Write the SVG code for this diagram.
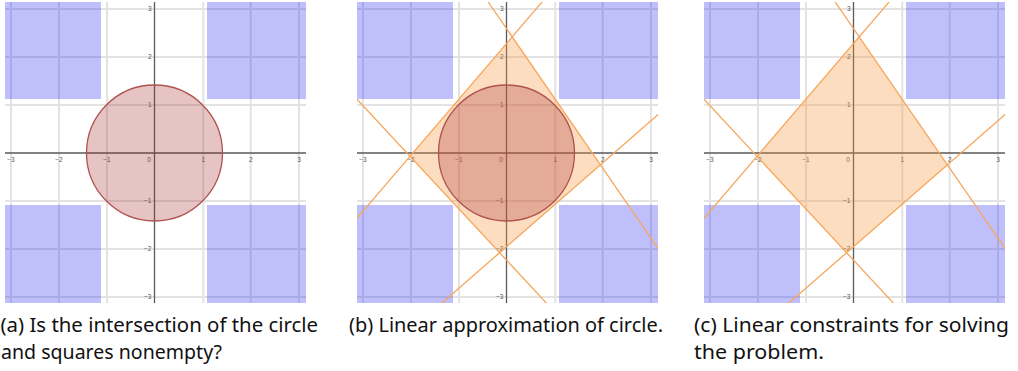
<svg xmlns="http://www.w3.org/2000/svg" width="1018" height="371" viewBox="0 0 1018 371">
<style>
.grid{stroke:#e3e3e3;stroke-width:2;fill:none}
.sq{fill:#0000f0;fill-opacity:0.25;stroke:none}
.axis{stroke:#5a5a5a;stroke-width:1.3;fill:none}
.tick{font-family:"Liberation Sans",Arial,sans-serif;font-size:6.5px;fill:#555}
.tx{text-anchor:middle}
.ty{text-anchor:end}
.circ{fill:#a52a2a;fill-opacity:0.28;stroke:#b0524f;stroke-width:1.3}
.region{fill:#fa963c;fill-opacity:0.32;stroke:none}
.lin{stroke:#f7a75c;stroke-width:1.3;fill:none}
.cap{font-family:"Noto Sans","Open Sans",sans-serif;font-size:19px;fill:#111}
</style>
<defs>
<clipPath id="clip"><rect x="5" y="2" width="301" height="301"/></clipPath>
<g id="base">
<rect x="5" y="2" width="301" height="301" fill="#ffffff"/>
<path class="grid" d="M11 2V303M59 2V303M107 2V303M203.3 2V303M250.7 2V303M299 2V303M5 9H306M5 57H306M5 105H306M5 201H306M5 249H306M5 297H306"/>
<rect class="sq" x="5" y="2" width="96" height="97"/>
<rect class="sq" x="207" y="2" width="99" height="97"/>
<rect class="sq" x="5" y="205" width="96" height="98"/>
<rect class="sq" x="207" y="205" width="99" height="98"/>
<path class="axis" d="M5 153H306M154.5 2V303"/>
</g>
<g id="lines" clip-path="url(#clip)">
<polygon class="region" points="58,156.3 160.2,36.8 248.4,164.9 147.6,252.8"/>
<path class="lin" d="M0 224.1L192 -0.3M134.6 -0.3L310 254.2M310 111.2L86.8 305.7M0 93.9L196 304.8"/>
</g>
</defs>

<g id="panel-a">
<use href="#base"/>
<g class="tick">
<text class="tx" x="11" y="161.5">−3</text><text class="tx" x="59" y="161.5">−2</text><text class="tx" x="107" y="161.5">−1</text><text class="tx" x="149" y="161.5">0</text><text class="tx" x="203.3" y="161.5">1</text><text class="tx" x="250.7" y="161.5">2</text><text class="tx" x="299" y="161.5">3</text>
<text class="ty" x="151.5" y="11.3">3</text><text class="ty" x="151.5" y="59.3">2</text><text class="ty" x="151.5" y="107.3">1</text><text class="ty" x="151.5" y="203.3">−1</text><text class="ty" x="151.5" y="251.3">−2</text><text class="ty" x="151.5" y="299.3">−3</text>
</g>
<circle class="circ" cx="154.5" cy="153" r="68"/>
</g>

<g id="panel-b" transform="translate(352,0)">
<use href="#base"/>
<g class="tick">
<text class="tx" x="11" y="161.5">−3</text><text class="tx" x="59" y="161.5">−2</text><text class="tx" x="107" y="161.5">−1</text><text class="tx" x="149" y="161.5">0</text><text class="tx" x="203.3" y="161.5">1</text><text class="tx" x="250.7" y="161.5">2</text><text class="tx" x="299" y="161.5">3</text>
<text class="ty" x="151.5" y="11.3">3</text><text class="ty" x="151.5" y="59.3">2</text><text class="ty" x="151.5" y="107.3">1</text><text class="ty" x="151.5" y="203.3">−1</text><text class="ty" x="151.5" y="251.3">−2</text><text class="ty" x="151.5" y="299.3">−3</text>
</g>
<use href="#lines"/>
<circle class="circ" cx="154.5" cy="153" r="68"/>
</g>

<g id="panel-c" transform="translate(699,0)">
<use href="#base"/>
<g class="tick">
<text class="tx" x="11" y="161.5">−3</text><text class="tx" x="59" y="161.5">−2</text><text class="tx" x="107" y="161.5">−1</text><text class="tx" x="149" y="161.5">0</text><text class="tx" x="203.3" y="161.5">1</text><text class="tx" x="250.7" y="161.5">2</text><text class="tx" x="299" y="161.5">3</text>
<text class="ty" x="151.5" y="11.3">3</text><text class="ty" x="151.5" y="59.3">2</text><text class="ty" x="151.5" y="107.3">1</text><text class="ty" x="151.5" y="203.3">−1</text><text class="ty" x="151.5" y="251.3">−2</text><text class="ty" x="151.5" y="299.3">−3</text>
</g>
<use href="#lines"/>
</g>

<g id="captions" class="cap">
<text x="0.5" y="332" textLength="317.5" lengthAdjust="spacingAndGlyphs">(a) Is the intersection of the circle</text>
<text x="1" y="359" textLength="221" lengthAdjust="spacingAndGlyphs">and squares nonempty?</text>
<text x="349" y="332" textLength="314" lengthAdjust="spacingAndGlyphs">(b) Linear approximation of circle.</text>
<text x="694" y="332" textLength="315" lengthAdjust="spacingAndGlyphs">(c) Linear constraints for solving</text>
<text x="694" y="359" textLength="130" lengthAdjust="spacingAndGlyphs">the problem.</text>
</g>
</svg>
